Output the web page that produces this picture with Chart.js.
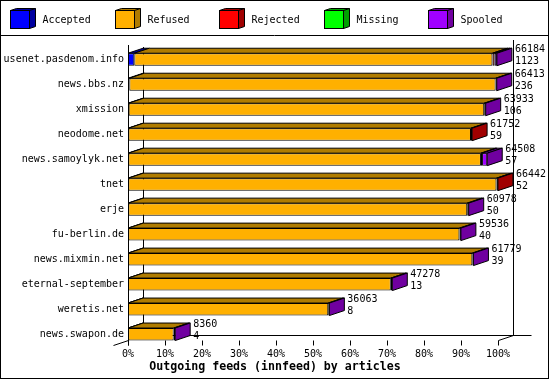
<!DOCTYPE html>
<html>
<head>
<meta charset="utf-8">
<script src="https://cdn.jsdelivr.net/npm/chart.js@4.4.0/dist/chart.umd.min.js"></script>
<style>
    html, body { margin: 0; padding: 0; background: #fff; }
</style>
</head>
<body>
<canvas id="feedChart" width="550" height="380"></canvas>
<script>
    // Feed names and article counts
    const hosts = ['usenet.pasdenom.info', 'news.bbs.nz', 'xmission', 'neodome.net', 'news.samoylyk.net', 'tnet',
        'erje', 'fu-berlin.de', 'news.mixmin.net', 'eternal-september', 'weretis.net', 'news.swapon.de'];
    const offered = [66184, 66413, 63933, 61752, 64508, 66442, 60978, 59536, 61779, 47278, 36063, 8360];
    const acceptedCount = [1123, 236, 106, 59, 57, 52, 50, 40, 39, 13, 8, 4];

    // Share of offered articles (%)
    const accepted = [1.7, 0.36, 0.17, 0.1, 0.09, 0.08, 0.08, 0.07, 0.06, 0.03, 0.02, 0.05];
    const refused  = [96.8, 99.0, 96.1, 92.6, 95.3, 99.5, 91.6, 89.5, 93.0, 71.0, 54.1, 12.3];
    const rejected = [0.6, 0, 0, 0.3, 0.3, 0.4, 0, 0, 0, 0, 0, 0];
    const missing  = [0, 0, 0, 0, 0, 0, 0, 0, 0, 0, 0, 0];
    const spooled  = [0.6, 0.3, 0.4, 0, 1.4, 0, 0.4, 0.4, 0.3, 0.4, 0.3, 0.4];

    const xTicks = ['0%', '10%', '20%', '30%', '40%', '50%', '60%', '70%', '80%', '90%', '100%'];

    const FONT = 'DejaVu Sans Mono';
    const DX = 15, DY = 5;   // depth of the 3d bars

    // back walls, floor and ticks
    const walls = {
        id: 'walls',
        beforeDatasetsDraw(chart) {
            const { ctx, chartArea, scales: { x, y } } = chart;
            const half = chart.getDatasetMeta(0).data[0].height / 2;
            const x0 = Math.round(x.getPixelForValue(0)) + 0.5;
            const x1 = Math.round(x.getPixelForValue(100)) + 0.5;
            const yb = Math.floor(y.getPixelForValue(hosts.length - 1) + half) + 0.5;
            const top = Math.round(chartArea.top);
            ctx.save();
            ctx.strokeStyle = '#000';
            ctx.lineWidth = 1;
            ctx.beginPath();
            ctx.moveTo(x0, top - 2); ctx.lineTo(x0, yb + 5);
            ctx.moveTo(x0 + DX, top); ctx.lineTo(x0 + DX, yb - DY);
            ctx.moveTo(x1 + DX, top - 7); ctx.lineTo(x1 + DX, yb - DY);
            ctx.moveTo(x0 + DX, yb - DY); ctx.lineTo(x1 + DX + 18, yb - DY);
            ctx.moveTo(x0 - DX, yb + DY); ctx.lineTo(x0, yb);
            ctx.moveTo(x1, yb); ctx.lineTo(x1 + DX, yb - DY);
            for (let v = 0; v <= 100; v += 10) {
                const px = Math.round(x.getPixelForValue(v)) + 0.5;
                ctx.moveTo(px, yb); ctx.lineTo(px, yb + 5);
            }
            ctx.stroke();
            ctx.restore();
        },
        afterDatasetsDraw(chart) {
            const { ctx } = chart;
            const sets = chart.data.datasets;
            ctx.save();
            ctx.strokeStyle = '#000';
            ctx.lineWidth = 1;
            hosts.forEach((h, i) => {
                let last = null;
                sets.forEach((ds, d) => {
                    if (!ds.data[i]) return;
                    const el = chart.getDatasetMeta(d).data[i];
                    const l = Math.min(el.base, el.x), r = Math.max(el.base, el.x);
                    const t = el.y - el.height / 2;
                    ctx.fillStyle = ds.sideColor;
                    ctx.beginPath();
                    ctx.moveTo(l, t); ctx.lineTo(l + DX, t - DY);
                    ctx.lineTo(r + DX, t - DY); ctx.lineTo(r, t);
                    ctx.closePath();
                    ctx.fill(); ctx.stroke();
                    last = { el, ds, r, t };
                });
                if (!last) return;
                const b = last.t + last.el.height;
                ctx.fillStyle = last.ds.sideColor;
                ctx.beginPath();
                ctx.moveTo(last.r, last.t); ctx.lineTo(last.r + DX, last.t - DY);
                ctx.lineTo(last.r + DX, b - DY); ctx.lineTo(last.r, b);
                ctx.closePath();
                ctx.fill(); ctx.stroke();

                ctx.fillStyle = '#000';
                ctx.font = '10px ' + FONT;
                ctx.textAlign = 'left';
                ctx.textBaseline = 'middle';
                ctx.fillText(String(offered[i]), last.r + 18, last.el.y - 10);
                ctx.fillText(String(acceptedCount[i]), last.r + 18, last.el.y + 2);
            });
            ctx.restore();
        },
        afterDraw(chart) {
            const { ctx } = chart;
            ctx.save();
            ctx.strokeStyle = '#000';
            ctx.lineWidth = 1;
            ctx.strokeRect(0.5, 0.5, 548, 378);
            ctx.beginPath();
            ctx.moveTo(0, 35.5); ctx.lineTo(549, 35.5);
            ctx.stroke();
            // legend with small cubes
            chart.data.datasets.forEach((ds, k) => {
                const bx = Math.round(10 + k * 104.5) + 0.5, by = 10.5;
                ctx.fillStyle = ds.sideColor;
                ctx.beginPath();
                ctx.moveTo(bx, by); ctx.lineTo(bx + 6, by - 2); ctx.lineTo(bx + 25, by - 2);
                ctx.lineTo(bx + 25, by + 16); ctx.lineTo(bx + 19, by + 18); ctx.lineTo(bx + 19, by);
                ctx.closePath();
                ctx.fill(); ctx.stroke();
                ctx.beginPath();
                ctx.moveTo(bx + 19, by); ctx.lineTo(bx + 25, by - 2);
                ctx.stroke();
                ctx.fillStyle = ds.backgroundColor;
                ctx.fillRect(bx, by, 19, 18);
                ctx.strokeRect(bx, by, 19, 18);
                ctx.fillStyle = '#000';
                ctx.font = '10px ' + FONT;
                ctx.textAlign = 'left';
                ctx.textBaseline = 'middle';
                ctx.fillText(ds.label, bx + 32, 20);
            });
            ctx.restore();
        }
    };

    Chart.defaults.font.family = FONT;
    Chart.defaults.font.size = 10;
    Chart.defaults.color = '#000';

    const seg = (label, data, color, side) => ({
        label, data,
        backgroundColor: color,
        sideColor: side,
        borderColor: '#000',
        borderWidth: 1,
        borderSkipped: false,
        categoryPercentage: 0.5,
        barPercentage: 1
    });

    new Chart(document.getElementById('feedChart'), {
        type: 'bar',
        data: {
            labels: hosts,
            datasets: [
                seg('Accepted', accepted, '#0000ff', '#0000a0'),
                seg('Refused', refused, '#ffb000', '#b07c00'),
                seg('Rejected', rejected, '#ff0000', '#a00000'),
                seg('Missing', missing, '#00ff00', '#00a000'),
                seg('Spooled', spooled, '#a000ff', '#7000a0')
            ]
        },
        options: {
            indexAxis: 'y',
            responsive: false,
            animation: false,
            devicePixelRatio: 1,
            layout: { padding: { left: 0, right: 0, top: 47, bottom: 6 } },
            plugins: {
                legend: { display: false },
                tooltip: { enabled: false },
                title: {
                    display: true,
                    position: 'bottom',
                    text: 'Outgoing feeds (innfeed) by articles',
                    color: '#000',
                    font: { family: FONT, size: 11.6, weight: 'bold' },
                    padding: 0
                }
            },
            scales: {
                x: {
                    stacked: true,
                    min: 0,
                    max: 100,
                    grid: { display: false, drawTicks: false },
                    border: { display: false },
                    ticks: {
                        stepSize: 10,
                        padding: 2,
                        maxRotation: 0,
                        callback: (v, i) => xTicks[i]
                    },
                    afterFit: s => { s.height = 13.3; }
                },
                y: {
                    stacked: true,
                    grid: { display: false, drawTicks: false },
                    border: { display: false },
                    ticks: { padding: 4 },
                    afterFit: s => { s.width = 128; }
                },
                // empty right-hand axis keeping room for the value labels
                margin: {
                    type: 'linear',
                    position: 'right',
                    grid: { display: false, drawTicks: false },
                    border: { display: false },
                    ticks: { display: false },
                    afterFit: s => { s.width = 52; }
                }
            }
        },
        plugins: [walls]
    });
</script>
</body>
</html>
